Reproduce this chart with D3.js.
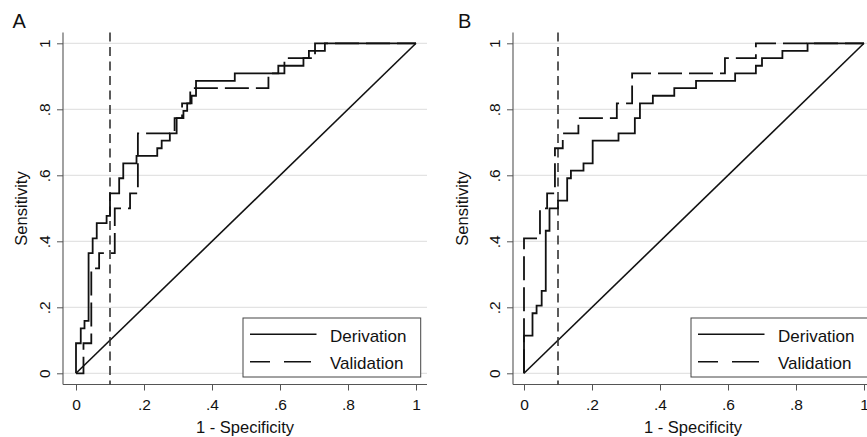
<!DOCTYPE html>
<html><head><meta charset="utf-8">
<script src="https://cdn.jsdelivr.net/npm/d3@7"></script>
<style>
body{margin:0;background:#fff}
svg{display:block}
text{font-family:"Liberation Sans",Arial,Helvetica,sans-serif;fill:#111}
</style>
</head><body>
<svg id="chart" width="867" height="437"></svg>
<script>
// ---- data ----
const panelLabels = ["A", "B"];
const seriesNames = ["Derivation", "Validation"];
const xTicks = [0, 0.2, 0.4, 0.6, 0.8, 1];
const xTickLabels = ["0", ".2", ".4", ".6", ".8", "1"];
const yTicks = [0, 0.2, 0.4, 0.6, 0.8, 1];
const yTickLabels = ["0", ".2", ".4", ".6", ".8", "1"];
const xTitle = "1 - Specificity";
const yTitle = "Sensitivity";
const cutoff = 0.1;
const chance = [[0, 0], [1, 1]];

// ROC points [1 - specificity, sensitivity]
const derivationA = [[0,0],[0,.091],[.014,.136],[.025,.159],[.037,.364],[.049,.409],[.061,.455],[.09,.477],[.1,.545],[.127,.591],[.139,.636],[.178,.659],[.239,.682],[.252,.705],[.276,.727],[.296,.773],[.316,.795],[.327,.818],[.34,.841],[.353,.886],[.467,.909],[.595,.932],[.669,.955],[.685,.977],[.732,1],[1,1]];
const validationA = [[0,0],[.022,.091],[.045,.318],[.068,.364],[.114,.5],[.159,.545],[.182,.727],[.29,.773],[.312,.818],[.336,.864],[.566,.909],[.613,.955],[.703,1],[1,1]];
const derivationB = [[0,0],[0,.114],[.025,.182],[.037,.205],[.052,.25],[.064,.432],[.075,.5],[.1,.523],[.127,.591],[.138,.614],[.175,.636],[.202,.705],[.278,.727],[.326,.773],[.341,.818],[.379,.841],[.442,.864],[.506,.886],[.621,.909],[.682,.932],[.7,.955],[.76,.977],[.834,1],[1,1]];
const validationB = [[0,0],[0,.409],[.047,.5],[.068,.545],[.091,.682],[.114,.727],[.16,.773],[.273,.818],[.318,.909],[.591,.955],[.682,1],[1,1]];

const panels = [
  {label: panelLabels[0], ox: 0, axisX: 63, titleX: 27, labelX: 12.5, deriv: derivationA, valid: validationA},
  {label: panelLabels[1], ox: 448, axisX: 513, titleX: 468, labelX: 458, deriv: derivationB, valid: validationB}
];

const svg = d3.select("#chart");
svg.append("rect").attr("width", 867).attr("height", 437).attr("fill", "#fff");

const plotTop = 32.5, plotBottom = 384.5;
const validDash = "24,7";

panels.forEach(p => {
  const g = svg.append("g");
  const left = p.axisX, right = p.ox + 427;
  const x = d3.scaleLinear().domain([0, 1]).range([p.ox + 76, p.ox + 416]);
  const y = d3.scaleLinear().domain([0, 1]).range([373.3, 43.3]);

  // gridlines
  g.append("g").selectAll("line").data(yTicks).join("line")
    .attr("x1", left).attr("x2", right)
    .attr("y1", d => y(d)).attr("y2", d => y(d))
    .attr("stroke", "#e3e3e3").attr("stroke-width", 1.3);

  // y axis
  const ya = g.append("g").attr("transform", `translate(${left},0)`)
    .call(d3.axisLeft(y).tickValues(yTicks).tickFormat((d, i) => yTickLabels[i]).tickSize(6).tickSizeOuter(0));
  ya.select(".domain").remove();
  ya.selectAll(".tick line").attr("stroke", "#555").attr("stroke-width", 1);
  ya.selectAll(".tick text")
    .attr("transform", "rotate(-90)").attr("x", 0).attr("y", -13).attr("dy", 0)
    .attr("text-anchor", "middle").style("font-size", "15.5px").attr("fill", "#111");

  // x axis
  const xa = g.append("g").attr("transform", `translate(0,${plotBottom})`)
    .call(d3.axisBottom(x).tickValues(xTicks).tickFormat((d, i) => xTickLabels[i]).tickSize(6).tickSizeOuter(0));
  xa.select(".domain").remove();
  xa.selectAll(".tick line").attr("stroke", "#555").attr("stroke-width", 1);
  xa.selectAll(".tick text").attr("y", 25.5).attr("dy", 0)
    .style("font-size", "15.5px").attr("fill", "#111");

  // axis lines
  g.append("line").attr("x1", left).attr("x2", left).attr("y1", plotTop).attr("y2", plotBottom)
    .attr("stroke", "#555").attr("stroke-width", 1.1);
  g.append("line").attr("x1", left).attr("x2", right).attr("y1", plotBottom).attr("y2", plotBottom)
    .attr("stroke", "#555").attr("stroke-width", 1.1);

  // chance diagonal
  const lin = d3.line().x(d => x(d[0])).y(d => y(d[1]));
  g.append("path").attr("d", lin(chance)).attr("fill", "none")
    .attr("stroke", "#111").attr("stroke-width", 1.6);

  // cutoff reference line
  g.append("line").attr("x1", x(cutoff)).attr("x2", x(cutoff)).attr("y1", plotTop).attr("y2", plotBottom)
    .attr("stroke", "#333").attr("stroke-width", 1.6).attr("stroke-dasharray", "9,5.5");

  // ROC curves
  const step = d3.line().x(d => x(d[0])).y(d => y(d[1])).curve(d3.curveStepAfter);
  g.append("path").attr("d", step(p.valid)).attr("fill", "none")
    .attr("stroke", "#111").attr("stroke-width", 1.8).attr("stroke-dasharray", validDash);
  g.append("path").attr("d", step(p.deriv)).attr("fill", "none")
    .attr("stroke", "#111").attr("stroke-width", 1.8);

  // legend
  const lg = g.append("g").attr("transform", `translate(${p.ox + 243},318)`);
  lg.append("rect").attr("width", 177.7).attr("height", 59)
    .attr("fill", "#fff").attr("stroke", "#444").attr("stroke-width", 1);
  const keys = [{name: seriesNames[0], dash: null, ly: 16.3, ty: 23.5},
                {name: seriesNames[1], dash: "20,14,27,14", ly: 43.7, ty: 50.5}];
  keys.forEach(k => {
    const ln = lg.append("line").attr("x1", 7).attr("x2", 73.5).attr("y1", k.ly).attr("y2", k.ly)
      .attr("stroke", "#111").attr("stroke-width", 1.6);
    if (k.dash) ln.attr("stroke-dasharray", k.dash);
    lg.append("text").attr("x", 87).attr("y", k.ty).style("font-size", "17px").text(k.name);
  });

  // titles
  g.append("text").attr("x", p.ox + 245).attr("y", 433).attr("text-anchor", "middle")
    .style("font-size", "16.5px").text(xTitle);
  g.append("text").attr("transform", `translate(${p.titleX},${(plotTop + plotBottom) / 2}) rotate(-90)`)
    .attr("text-anchor", "middle").style("font-size", "16.5px").text(yTitle);
  g.append("text").attr("x", p.labelX).attr("y", 28.3).style("font-size", "20px").text(p.label);
});
</script>
</body></html>
